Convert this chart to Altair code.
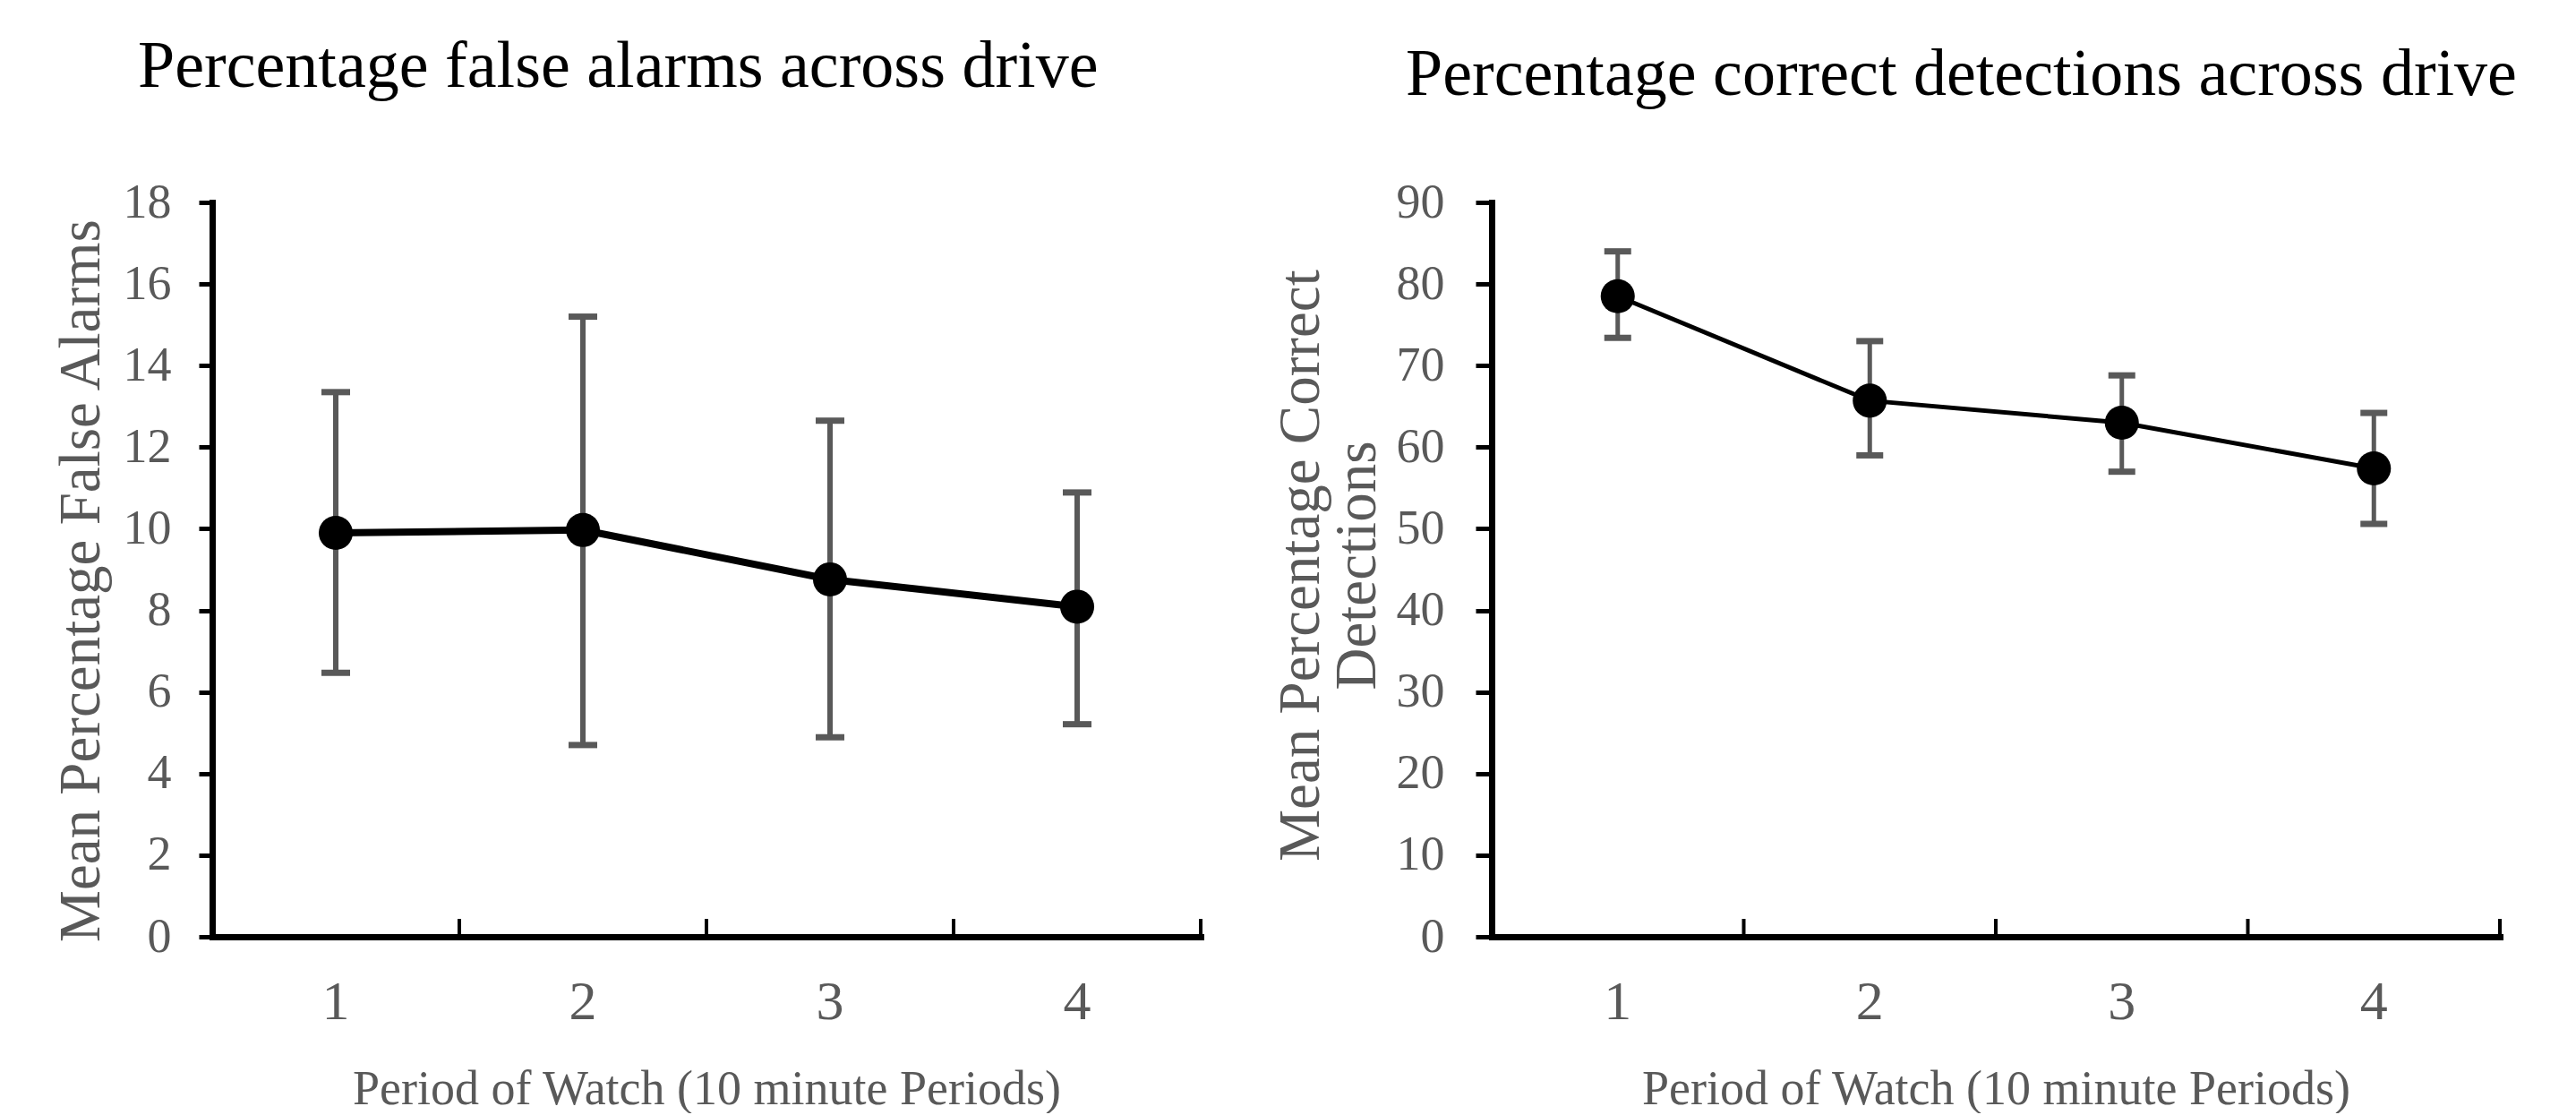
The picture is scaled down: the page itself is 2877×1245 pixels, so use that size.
import altair as alt
import pandas as pd

periods = ["1", "2", "3", "4"]

fa_mean = [9.9, 9.97, 8.76, 8.09]
fa_low = [6.47, 4.70, 4.89, 5.21]
fa_high = [13.35, 15.2, 12.65, 10.89]

cd_mean = [78.5, 65.7, 63.0, 57.4]
cd_low = [73.4, 59.0, 57.0, 50.6]
cd_high = [84.0, 73.0, 68.8, 64.2]

fa_ticks = [0, 2, 4, 6, 8, 10, 12, 14, 16, 18]
cd_ticks = [0, 10, 20, 30, 40, 50, 60, 70, 80, 90]

FONT = "Liberation Serif"
GRAY = "#595959"
H = 820


def panel(mean, low, high, ymax, yticks, ytitle, title, W, line_w, bar_w, cap_w,
          title_dx, title_dy, ytitle_x, ytitle_y, ylabel_pad, ytick_size):
    df = pd.DataFrame({"period": periods, "mean": mean, "low": low, "high": high})
    xscale = alt.Scale(type="band", paddingInner=0, paddingOuter=0)
    xaxis = alt.Axis(
        ticks=False, tickSize=0, domainColor="black", domainWidth=7, domainCap="square",
        labelFont=FONT, labelFontSize=62, labelColor=GRAY, labelPadding=42, labelAngle=0,
        title="Period of Watch (10 minute Periods)", titleFont=FONT, titleFontSize=54,
        titleFontWeight="normal", titleColor=GRAY, titleBaseline="alphabetic",
        titleAlign="center", titleX=W / 2, titleY=186, grid=False)
    yscale = alt.Scale(domain=[0, ymax], nice=False, zero=True)
    yaxis = alt.Axis(
        values=yticks, tickSize=ytick_size, tickWidth=5, tickColor="black",
        domainColor="black", domainWidth=7, domainCap="square",
        labelFont=FONT, labelFontSize=54, labelColor=GRAY, labelPadding=ylabel_pad,
        title=ytitle, titleFont=FONT, titleFontSize=65, titleFontWeight="normal",
        titleColor=GRAY, titleAngle=270, titleAlign="center", titleBaseline="middle",
        titleX=ytitle_x, titleY=ytitle_y, titleLineHeight=63, grid=False, format="d")

    x = alt.X("period:O", sort=periods, scale=xscale, axis=xaxis)
    base = alt.Chart(df)

    ebar = base.mark_rule(color=GRAY, strokeWidth=bar_w, opacity=1).encode(
        x=x, y=alt.Y("low:Q", scale=yscale, axis=yaxis), y2="high:Q")
    cap_lo = base.mark_tick(color=GRAY, size=cap_w, thickness=7, opacity=1).encode(
        x=x, y=alt.Y("low:Q", scale=yscale, axis=yaxis))
    cap_hi = base.mark_tick(color=GRAY, size=cap_w, thickness=7, opacity=1).encode(
        x=x, y=alt.Y("high:Q", scale=yscale, axis=yaxis))
    xt = base.mark_rule(color="black", strokeWidth=4).encode(
        x=alt.X("period:O", sort=periods, scale=xscale, axis=xaxis, bandPosition=1),
        y=alt.value(H - 20), y2=alt.value(H))
    line = base.mark_line(color="black", strokeWidth=line_w).encode(
        x=x, y=alt.Y("mean:Q", scale=yscale, axis=yaxis))
    pts = base.mark_circle(color="black", size=1450, opacity=1).encode(
        x=x, y=alt.Y("mean:Q", scale=yscale, axis=yaxis))

    return alt.layer(ebar, cap_lo, cap_hi, xt, line, pts).properties(
        width=W, height=H,
        title=alt.TitleParams(
            text=title, font=FONT, fontSize=74, fontWeight="normal", color="black",
            anchor="start", frame="group", dx=title_dx, dy=title_dy,
            baseline="alphabetic", offset=0))


left = panel(fa_mean, fa_low, fa_high, 18, fa_ticks, "Mean Percentage False Alarms",
             "Percentage false alarms across drive", 1104, 8, 6, 32,
             -83, -28, -147, 422, 31, 15)
right = panel(cd_mean, cd_low, cd_high, 90, cd_ticks,
              ["Mean Percentage Correct", "Detections"],
              "Percentage correct detections across drive", 1126, 5, 5, 30,
              -96, -19, -214, 405, 35, 18)

chart = alt.hconcat(left, right, spacing=325, bounds="flush").properties(
    padding={"left": 49, "top": 30, "right": 10, "bottom": 0},
    background="white",
).configure_view(stroke=None)

chart.save("out.html", embed_options={"renderer": "svg", "actions": False})
